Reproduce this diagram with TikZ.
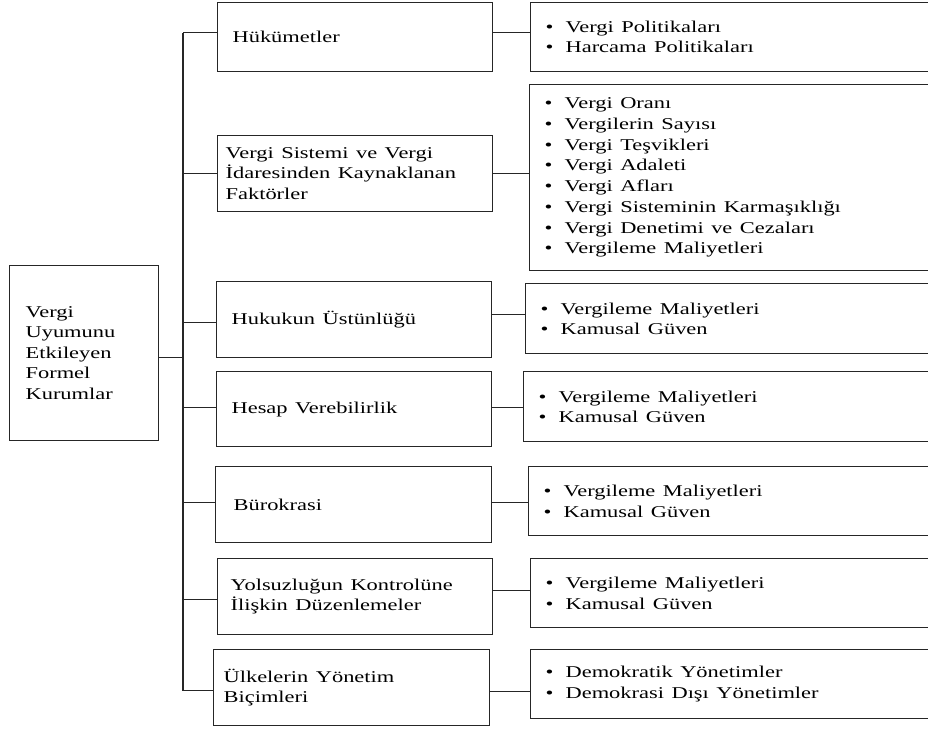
\documentclass[tikz,border=0pt]{standalone}
\usepackage{fontspec}
\usepackage{graphicx}
\setmainfont{Liberation Serif}
% the lettering is set wide: every line is stretched horizontally
\newcommand\wide[1]{\scalebox{1.36}[1]{#1}}
\newcommand\bul[1]{\makebox[20pt][l]{\wide{\textbullet}}\wide{#1}}
\begin{document}
\begin{tikzpicture}[x=1pt,y=-1pt,
  frame/.style={draw=black!85, line width=1.2pt, rectangle, anchor=north west,
    align=left, inner ysep=0pt, font=\fontsize{16.5}{20.5}\selectfont},
  mid/.style={frame, minimum width=275pt},
  side/.style={frame, minimum width=500pt, inner xsep=15pt, text width=470pt},
  link/.style={draw=black!85, line width=1.2pt}]
\fill[white] (0,0) rectangle (928,729);
\useasboundingbox (0,0) rectangle (928,729);
\clip (0,0) rectangle (928,729);

% root box
\node[frame, minimum width=149pt, minimum height=175pt, inner xsep=16pt, text width=117pt]
  (L) at (9,265) {\wide{Vergi}\\\wide{Uyumunu}\\\wide{Etkileyen}\\\wide{Formel}\\\wide{Kurumlar}};

% middle column
\node[mid, minimum height=69pt, inner xsep=15pt, text width=245pt] (A) at (217,2) {\wide{Hükümetler}};
\node[mid, minimum height=76pt, inner xsep=8pt, text width=259pt] (B) at (217,135)
  {\wide{Vergi Sistemi ve Vergi}\\\wide{İdaresinden Kaynaklanan}\\\wide{Faktörler}};
\node[mid, minimum height=76pt, inner xsep=15pt, text width=245pt] (C) at (216,281) {\wide{Hukukun Üstünlüğü}};
\node[mid, minimum height=75pt, inner xsep=15pt, text width=245pt] (D) at (216,371) {\wide{Hesap Verebilirlik}};
\node[mid, minimum width=276pt, minimum height=76pt, inner xsep=18pt, text width=240pt] (E) at (215,466) {\wide{Bürokrasi}};
\node[mid, minimum height=76pt, inner xsep=13pt, text width=249pt] (F) at (217,558)
  {\wide{Yolsuzluğun Kontrolüne}\\\wide{İlişkin Düzenlemeler}};
\node[mid, minimum width=276pt, minimum height=76pt, inner xsep=10pt, text width=256pt] (G) at (213,649)
  {\wide{Ülkelerin Yönetim}\\\wide{Biçimleri}};

% right column
\node[side, minimum height=69pt] (RA) at (530,2)
  {\bul{Vergi Politikaları}\\\bul{Harcama Politikaları}};
\node[side, minimum height=186pt, font=\fontsize{16.5}{20.7}\selectfont] (RB) at (529,84)
  {\bul{Vergi Oranı}\\\bul{Vergilerin Sayısı}\\\bul{Vergi Teşvikleri}\\\bul{Vergi Adaleti}\\
   \bul{Vergi Afları}\\\bul{Vergi Sisteminin Karmaşıklığı}\\\bul{Vergi Denetimi ve Cezaları}\\
   \bul{Vergileme Maliyetleri}};
\node[side, minimum height=70pt] (RC) at (525,283)
  {\bul{Vergileme Maliyetleri}\\\bul{Kamusal Güven}};
\node[side, minimum height=70pt] (RD) at (523,371)
  {\bul{Vergileme Maliyetleri}\\\bul{Kamusal Güven}};
\node[side, minimum height=69pt] (RE) at (528,466)
  {\bul{Vergileme Maliyetleri}\\\bul{Kamusal Güven}};
\node[side, minimum height=69pt] (RF) at (530,558)
  {\bul{Vergileme Maliyetleri}\\\bul{Kamusal Güven}};
\node[side, minimum height=69pt] (RG) at (530,649)
  {\bul{Demokratik Yönetimler}\\\bul{Demokrasi Dışı Yönetimler}};

% trunk and connectors
\coordinate (trunk) at (183,0);
\draw[link] ([yshift=4.5pt]A.west -| trunk) -- ([yshift=-3pt]G.west -| trunk);
\draw[link] ([yshift=-4.5pt]L.east) -- ([yshift=-4.5pt]L.east -| trunk);
\foreach \n/\ls/\rs in {A/4.5/4.5, B/0/0, C/-3/5, D/1.5/1.5, E/2/2, F/-3/6, G/-3/-4} {
  \draw[link] ([yshift=\ls pt]\n.west) -- ([yshift=\ls pt]\n.west -| trunk);
  \draw[link] ([yshift=\rs pt]\n.east) -- ([yshift=\rs pt]\n.east -| R\n.west);
}
\end{tikzpicture}
\end{document}
